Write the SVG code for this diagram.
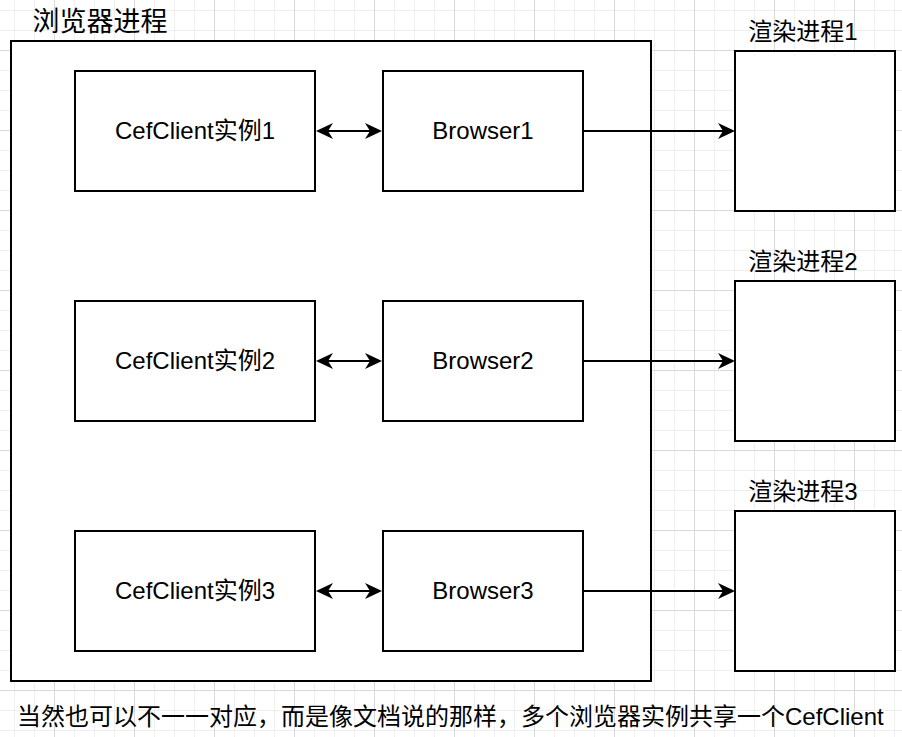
<svg xmlns="http://www.w3.org/2000/svg" width="902" height="737" viewBox="0 0 902 737">
<style>
.box{fill:#fff;stroke:#000;stroke-width:2}
.t{font-family:"Liberation Sans","Noto Sans CJK SC",sans-serif;font-size:24px;fill:#000}
.c{text-anchor:middle}
.ln{stroke:#000;stroke-width:2;fill:none}
</style>
<defs>
<pattern id="gm" x="14" y="10" width="20" height="20" patternUnits="userSpaceOnUse">
<rect width="20" height="20" fill="#fff"/>
<rect width="1" height="20" fill="#efefef"/>
<rect width="20" height="1" fill="#efefef"/>
</pattern>
<pattern id="gM" x="54" y="50" width="80" height="80" patternUnits="userSpaceOnUse">
<rect width="1" height="80" fill="#d9d9d9"/>
<rect width="80" height="1" fill="#d9d9d9"/>
</pattern>
<marker id="ah" markerUnits="userSpaceOnUse" markerWidth="17" markerHeight="16" refX="5" refY="8" orient="auto-start-reverse" viewBox="0 0 17 16">
<path d="M0,0 L17,8 L0,16 L5,8 Z" fill="#000"/>
</marker>
</defs>
<rect width="902" height="737" fill="url(#gm)"/>
<rect width="902" height="737" fill="url(#gM)"/>

<g id="browser-process">
<rect class="box" x="11" y="41" width="640" height="640"/>
<text class="t c" x="100" y="31" style="font-size:27px">浏览器进程</text>
</g>

<g id="cef1"><rect class="box" x="75" y="71" width="240" height="120"/><text class="t c" x="195" y="139">CefClient实例1</text></g>
<g id="cef2"><rect class="box" x="75" y="301" width="240" height="120"/><text class="t c" x="195" y="369">CefClient实例2</text></g>
<g id="cef3"><rect class="box" x="75" y="531" width="240" height="120"/><text class="t c" x="195" y="599">CefClient实例3</text></g>

<g id="browser1"><rect class="box" x="383" y="71" width="200" height="120"/><text class="t c" x="483" y="139">Browser1</text></g>
<g id="browser2"><rect class="box" x="383" y="301" width="200" height="120"/><text class="t c" x="483" y="369">Browser2</text></g>
<g id="browser3"><rect class="box" x="383" y="531" width="200" height="120"/><text class="t c" x="483" y="599">Browser3</text></g>

<g id="render1"><rect class="box" x="735" y="51" width="160" height="160"/><text class="t c" x="803" y="40">渲染进程1</text></g>
<g id="render2"><rect class="box" x="735" y="281" width="160" height="160"/><text class="t c" x="803" y="270">渲染进程2</text></g>
<g id="render3"><rect class="box" x="735" y="511" width="160" height="160"/><text class="t c" x="803" y="500">渲染进程3</text></g>

<g id="connectors">
<line class="ln" x1="328" y1="131" x2="370" y2="131" marker-start="url(#ah)" marker-end="url(#ah)"/>
<line class="ln" x1="328" y1="361" x2="370" y2="361" marker-start="url(#ah)" marker-end="url(#ah)"/>
<line class="ln" x1="328" y1="591" x2="370" y2="591" marker-start="url(#ah)" marker-end="url(#ah)"/>
<line class="ln" x1="583" y1="131" x2="723" y2="131" marker-end="url(#ah)"/>
<line class="ln" x1="583" y1="361" x2="723" y2="361" marker-end="url(#ah)"/>
<line class="ln" x1="583" y1="591" x2="723" y2="591" marker-end="url(#ah)"/>
</g>

<text class="t" x="17" y="725">当然也可以不一一对应，而是像文档说的那样，多个浏览器实例共享一个CefClient</text>
</svg>
